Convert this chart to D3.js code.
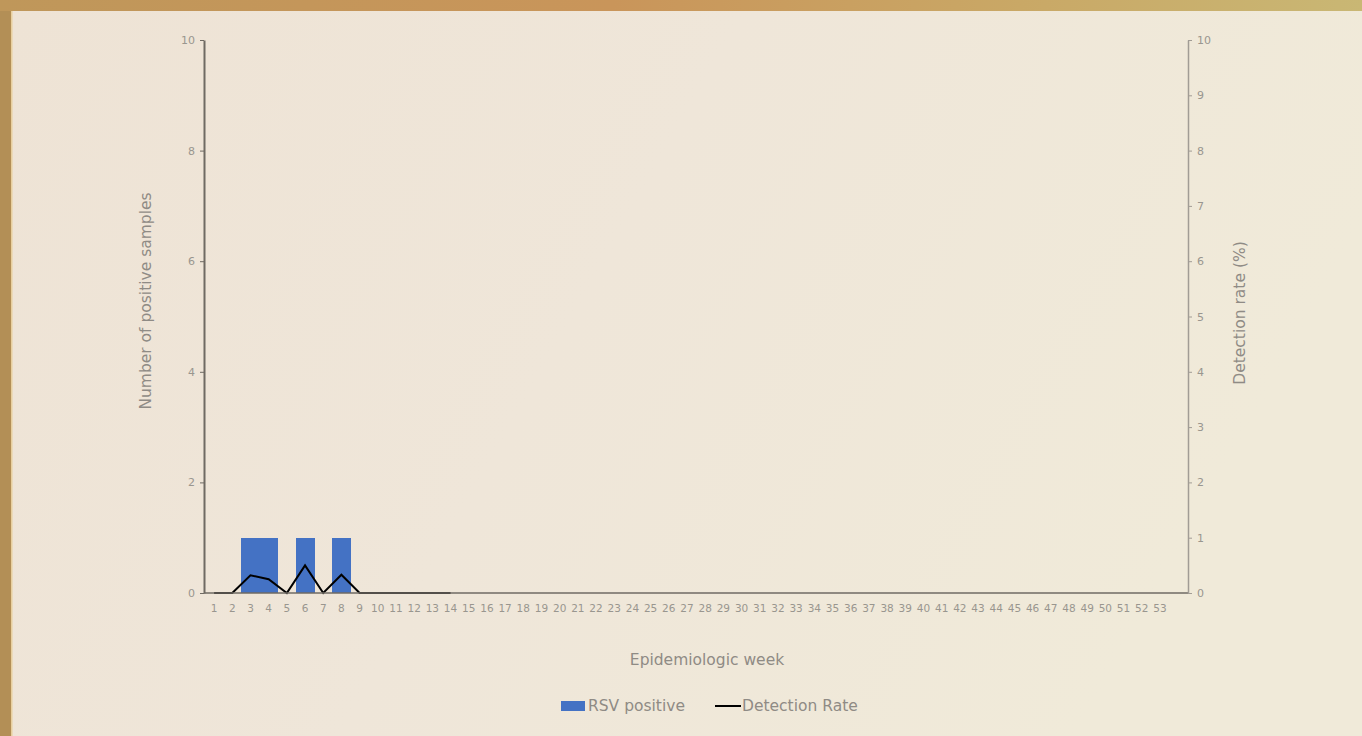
<!DOCTYPE html>
<html><head><meta charset="utf-8">
<script src="https://cdn.jsdelivr.net/npm/d3@7/dist/d3.min.js"></script>
<style>
html,body{margin:0;padding:0;width:1362px;height:736px;overflow:hidden;background:#b8925a;}
svg{display:block;font-family:"DejaVu Sans","Open Sans",sans-serif;}
</style></head><body>
<svg id="c" width="1362" height="736"></svg>
<script>
const weeks = d3.range(1, 54).map(String);
const rsvPositive = [0,0,1,1,0,1,0,1,0,0,0,0,0,0];
const detectionRate = [0,0,0.32,0.25,0,0.5,0,0.33,0,0,0,0,0,0];
const leftTicks = [0,2,4,6,8,10];
const rightTicks = [0,1,2,3,4,5,6,7,8,9,10];

const FONT = "DejaVu Sans, Open Sans, sans-serif";
const svg = d3.select("#c");
const defs = svg.append("defs");
const gTop = defs.append("linearGradient").attr("id","gTop").attr("x1","0").attr("x2","1");
[["0","#bf975a"],["0.45","#c9955a"],["0.75","#c9a866"],["1","#c9b774"]].forEach(s=>gTop.append("stop").attr("offset",s[0]).attr("stop-color",s[1]));
const gIn = defs.append("linearGradient").attr("id","gIn").attr("x1","0").attr("x2","1").attr("y1","0").attr("y2","0.3");
[["0","#eee3d5"],["0.5","#efe6d9"],["1","#f0ead9"]].forEach(s=>gIn.append("stop").attr("offset",s[0]).attr("stop-color",s[1]));

svg.append("rect").attr("width",1362).attr("height",736).attr("fill","#b38f56");
svg.append("rect").attr("width",1362).attr("height",11).attr("fill","url(#gTop)");
svg.append("rect").attr("x",11).attr("y",11).attr("width",1351).attr("height",725).attr("fill","url(#gIn)");
svg.append("rect").attr("x",11).attr("y",11).attr("width",1.5).attr("height",725).attr("fill","#e8cf9e");

const x0 = 204, x1 = 1188, yTop = 40, yBot = 593;
const x = d3.scaleBand().domain(weeks).range([205, 1169]).paddingInner(0).paddingOuter(0);
const yL = d3.scaleLinear().domain([0,10]).range([yBot, yTop]);
const yR = d3.scaleLinear().domain([0,10]).range([yBot, yTop]);

// bars
svg.append("g").attr("shape-rendering","crispEdges").selectAll("rect").data(rsvPositive.map((v,i)=>({w:weeks[i],v})).filter(d=>d.v>0))
  .join("rect").attr("x",d=>x(d.w)).attr("width",x.bandwidth()+0.5)
  .attr("y",d=>yL(d.v)).attr("height",d=>yL(0)-yL(d.v)).attr("fill","#4472c4");

// line
const line = d3.line().x((d,i)=>x(weeks[i])+x.bandwidth()/2).y(d=>yR(d));
svg.append("path").datum(detectionRate).attr("d",line).attr("fill","none").attr("stroke","#000").attr("stroke-width",2).attr("stroke-linejoin","miter");

// bottom axis
svg.append("line").attr("x1",x0).attr("x2",x1).attr("y1",yBot).attr("y2",yBot).attr("stroke","#6f6a63").attr("stroke-width",1.5);
svg.append("g").selectAll("text").data(weeks).join("text")
  .attr("x",d=>x(d)+x.bandwidth()/2).attr("y",612).attr("text-anchor","middle")
  .attr("font-size",10.5).attr("fill","#99968f").text(d=>d);

// left axis
const gl = svg.append("g").attr("transform",`translate(${x0},0)`)
  .call(d3.axisLeft(yL).tickValues(leftTicks).tickSize(4).tickSizeOuter(0).tickFormat(d3.format("d")));
gl.select(".domain").attr("stroke","#6f6a63").attr("stroke-width",2);
gl.selectAll(".tick line").attr("stroke","#6f6a63");
gl.selectAll(".tick text").attr("fill","#99968f").attr("font-size",11).attr("font-family",FONT).attr("x",-9);

// right axis
const gr = svg.append("g").attr("transform",`translate(${x1},0)`)
  .call(d3.axisRight(yR).tickValues(rightTicks).tickSize(4).tickSizeOuter(0).tickFormat(d3.format("d")));
gr.select(".domain").attr("stroke","#a19c95").attr("stroke-width",1.5);
gr.selectAll(".tick line").attr("stroke","#a19c95");
gr.selectAll(".tick text").attr("fill","#99968f").attr("font-size",11).attr("font-family",FONT).attr("x",9);

// titles
svg.append("text").attr("transform","translate(151,301) rotate(-90)").attr("text-anchor","middle")
  .attr("font-size",15.5).attr("fill","#8f8b85").text("Number of positive samples");
svg.append("text").attr("transform","translate(1245,313) rotate(-90)").attr("text-anchor","middle")
  .attr("font-size",15.5).attr("fill","#8f8b85").text("Detection rate (%)");
svg.append("text").attr("x",707).attr("y",665).attr("text-anchor","middle")
  .attr("font-size",15.5).attr("fill","#8f8b85").text("Epidemiologic week");

// legend
const lg = svg.append("g");
lg.append("rect").attr("x",561).attr("y",701).attr("width",24).attr("height",10).attr("fill","#4472c4");
lg.append("text").attr("x",588).attr("y",711).attr("font-size",15.5).attr("fill","#8f8b85").text("RSV positive");
lg.append("line").attr("x1",715).attr("x2",741).attr("y1",706).attr("y2",706).attr("stroke","#000").attr("stroke-width",2);
lg.append("text").attr("x",742).attr("y",711).attr("font-size",15.5).attr("fill","#8f8b85").text("Detection Rate");
</script>
</body></html>
